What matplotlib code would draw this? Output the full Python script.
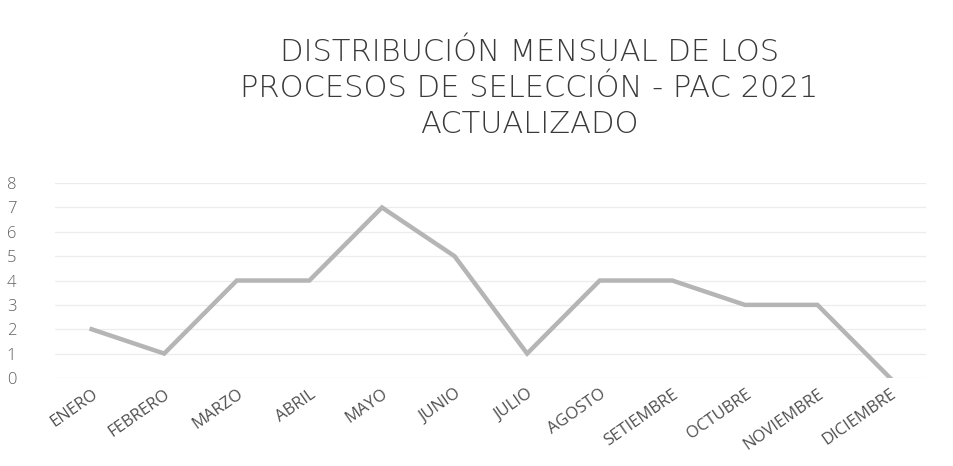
import matplotlib.pyplot as plt

meses = ["ENERO", "FEBRERO", "MARZO", "ABRIL", "MAYO", "JUNIO", "JULIO",
         "AGOSTO", "SETIEMBRE", "OCTUBRE", "NOVIEMBRE", "DICIEMBRE"]
procesos = [2, 1, 4, 4, 7, 5, 1, 4, 4, 3, 3, 0]
yticks = [0, 1, 2, 3, 4, 5, 6, 7, 8]

plt.rcParams['font.family'] = ['Open Sans', 'DejaVu Sans']

fig = plt.figure(figsize=(9.54, 4.66), dpi=100)
ax = fig.add_axes([0.058, 0.189, 0.913, 0.418])

x = list(range(len(meses)))
ax.plot(x, procesos, color="#b5b5b5", linewidth=3.2, solid_joinstyle="miter")

ax.set_xlim(-0.5, len(meses) - 0.5)
ax.set_ylim(0, 8)
ax.set_yticks(yticks)
ax.set_xticks(x)
ax.set_xticklabels(meses, rotation=35, ha="right", rotation_mode="anchor",
                   fontsize=12, color="#505050")
# etiquetas del eje y pegadas al borde izquierdo
ax.tick_params(axis="y", labelsize=12, colors="#606060", length=0, pad=35)
ax.tick_params(axis="x", length=0, pad=6)
for lab in ax.get_yticklabels():
    lab.set_horizontalalignment("left")
    lab.set_fontweight("light")
ax.grid(axis="y", color="#ececec", linewidth=0.9)
for s in ax.spines.values():
    s.set_visible(False)

fig.text(0.555, 0.81, "DISTRIBUCIÓN MENSUAL DE LOS\nPROCESOS DE SELECCIÓN - PAC 2021\nACTUALIZADO",
         ha="center", va="center", fontsize=22, color="#3a3a3a", linespacing=1.3,
         fontweight="light", family=["DejaVu Sans"])

fig.savefig("out.png", dpi=100)
